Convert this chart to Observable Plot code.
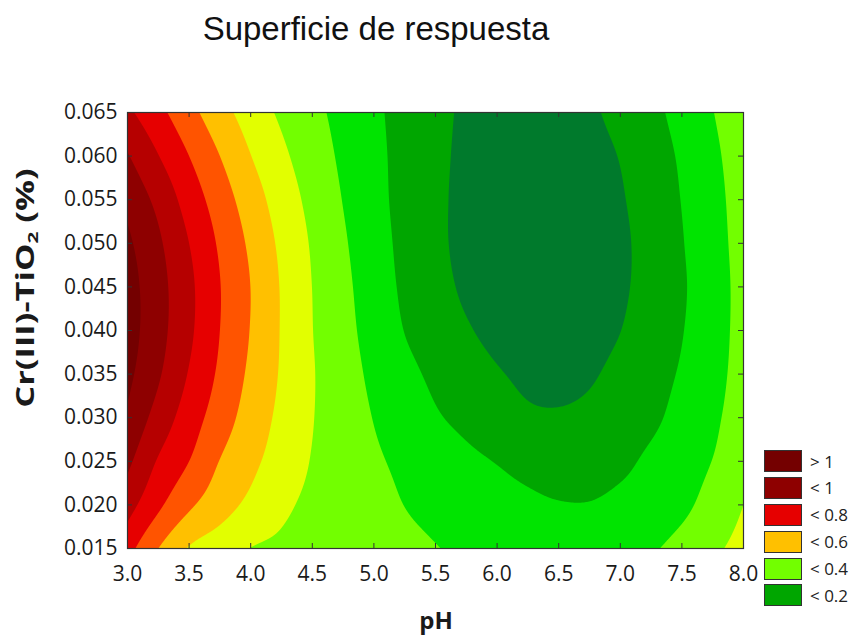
<!DOCTYPE html>
<html>
<head>
<meta charset="utf-8">
<script src="https://cdn.jsdelivr.net/npm/d3@7"></script>
<script src="https://cdn.jsdelivr.net/npm/@observablehq/plot@0.6"></script>
<style>
  body { margin: 0; background: #fff; }
  #chart { position: relative; width: 858px; height: 635px; font-family: "Open Sans", sans-serif; color: #1a1a1a; }
  #chart svg { position: absolute; left: 0; top: 0; }
  #title { position: absolute; left: 0; width: 752px; top: 12px; text-align: center;
           font-family: "Liberation Sans", Arial, sans-serif; font-size: 33px; line-height: 33px; color: #111; }
  #ylab { position: absolute; left: 28px; top: 288px; transform: translate(-50%, -50%) rotate(-90deg) scaleX(1.38);
          white-space: nowrap; font-weight: 700; font-size: 25px; line-height: 25px; }
  #ylab sub { font-size: 15px; vertical-align: -4px; }
  #xlab { position: absolute; left: 436px; top: 603px; transform: translateX(-50%); font-weight: 700; font-size: 24px; }
  #legend { position: absolute; left: 764px; top: 450px; }
  .item { display: flex; align-items: center; height: 22px; margin-bottom: 4.9px; }
  .swatch { width: 36px; height: 20px; border: 1px solid #333; }
  .item span { margin-left: 8px; font-size: 17px; color: #222; }
</style>
</head>
<body>
<div id="chart">
  <div id="title">Superficie de respuesta</div>
  <div id="ylab">Cr(III)-TiO<sub>2</sub> (%)</div>
  <div id="xlab">pH</div>
  <div id="legend"></div>
</div>
<script>
// Grid of the fitted response: one row per Cr(III)-TiO2 level, one value per pH.
const pH = [3.0, 3.25, 3.5, 3.75, 4.0, 4.25, 4.5, 4.75, 5.0, 5.25, 5.5, 5.75, 6.0, 6.25, 6.5, 6.75, 7.0, 7.25, 7.5, 7.75, 8.0];
const cr = [0.015, 0.020, 0.025, 0.030, 0.035, 0.040, 0.045, 0.050, 0.055, 0.060, 0.065];

const r015 = [0.735, 0.600, 0.492, 0.445, 0.398, 0.383, 0.367, 0.351, 0.335, 0.319, 0.303, 0.285, 0.270, 0.260, 0.255, 0.258, 0.268, 0.290, 0.331, 0.382, 0.430];
const r020 = [0.839, 0.719, 0.617, 0.542, 0.477, 0.419, 0.381, 0.354, 0.326, 0.299, 0.279, 0.258, 0.234, 0.218, 0.205, 0.204, 0.222, 0.243, 0.280, 0.335, 0.400];
const r025 = [0.922, 0.791, 0.700, 0.597, 0.524, 0.456, 0.395, 0.354, 0.313, 0.282, 0.254, 0.222, 0.196, 0.172, 0.156, 0.158, 0.180, 0.218, 0.260, 0.302, 0.365];
const r030 = [0.984, 0.861, 0.751, 0.650, 0.557, 0.477, 0.404, 0.349, 0.297, 0.253, 0.210, 0.175, 0.138, 0.113, 0.108, 0.118, 0.142, 0.181, 0.231, 0.283, 0.345];
const r035 = [1.024, 0.912, 0.793, 0.683, 0.581, 0.490, 0.407, 0.341, 0.280, 0.226, 0.181, 0.142, 0.107, 0.086, 0.082, 0.092, 0.122, 0.164, 0.210, 0.269, 0.335];
const r040 = [1.043, 0.935, 0.819, 0.700, 0.596, 0.494, 0.402, 0.331, 0.263, 0.198, 0.154, 0.109, 0.077, 0.062, 0.061, 0.073, 0.099, 0.146, 0.196, 0.262, 0.330];
const r045 = [1.041, 0.936, 0.822, 0.703, 0.599, 0.493, 0.399, 0.324, 0.250, 0.184, 0.133, 0.085, 0.058, 0.044, 0.044, 0.058, 0.087, 0.133, 0.189, 0.259, 0.330];
const r050 = [1.018, 0.916, 0.800, 0.686, 0.582, 0.480, 0.390, 0.312, 0.240, 0.176, 0.122, 0.074, 0.046, 0.034, 0.036, 0.053, 0.084, 0.134, 0.195, 0.264, 0.335];
const r055 = [0.973, 0.873, 0.757, 0.651, 0.549, 0.454, 0.372, 0.297, 0.230, 0.171, 0.120, 0.076, 0.051, 0.040, 0.043, 0.061, 0.092, 0.144, 0.203, 0.268, 0.345];
const r060 = [0.907, 0.803, 0.700, 0.600, 0.502, 0.420, 0.349, 0.283, 0.224, 0.171, 0.122, 0.081, 0.058, 0.049, 0.053, 0.072, 0.104, 0.157, 0.213, 0.279, 0.355];
const r065 = [0.820, 0.728, 0.632, 0.538, 0.455, 0.384, 0.326, 0.270, 0.217, 0.169, 0.124, 0.087, 0.067, 0.060, 0.067, 0.087, 0.127, 0.175, 0.232, 0.297, 0.370];
const rows = [r015, r020, r025, r030, r035, r040, r045, r050, r055, r060, r065];

// Contour levels and the colour of each band (below 0.1 up to above 1).
const levels = [0.1, 0.2, 0.3, 0.4, 0.5, 0.6, 0.7, 0.8, 0.9, 1.0];
const bandColors = ["#007a2c", "#00a600", "#00e400", "#72ff00", "#e2ff00", "#ffc000", "#ff5400", "#e60000", "#b60000", "#8e0000", "#740000"];

// Legend entries and a value inside each listed band.
const legendLabels = ["> 1", "< 1", "< 0.8", "< 0.6", "< 0.4", "< 0.2"];
const legendValues = [1.05, 0.95, 0.75, 0.55, 0.35, 0.15];

const xTicks = [3.0, 3.5, 4.0, 4.5, 5.0, 5.5, 6.0, 6.5, 7.0, 7.5, 8.0];
const yTicks = [0.015, 0.020, 0.025, 0.030, 0.035, 0.040, 0.045, 0.050, 0.055, 0.060, 0.065];

const points = rows.flatMap((row, j) => row.map((z, i) => ({pH: pH[i], cr: cr[j], z})));

// Smooth (Catmull-Rom bicubic) raster interpolation over the regular pH × Cr grid,
// used by the contour mark in place of the default triangulation.
function bicubicGrid(index, width, height, X, Y, V) {
  const nx = pH.length, ny = cr.length;
  const at = (i, j) => index[j * nx + i];
  const x0 = X[at(0, 0)], dx = (X[at(nx - 1, 0)] - x0) / (nx - 1);
  const y0 = Y[at(0, 0)], dy = (Y[at(0, ny - 1)] - y0) / (ny - 1);
  const g = (i, j) => {
    if (i < 0) return 2 * g(0, j) - g(1, j);
    if (i > nx - 1) return 2 * g(nx - 1, j) - g(nx - 2, j);
    if (j < 0) return 2 * g(i, 0) - g(i, 1);
    if (j > ny - 1) return 2 * g(i, ny - 1) - g(i, ny - 2);
    return V[at(i, j)];
  };
  const cubic = (p0, p1, p2, p3, t) =>
    0.5 * (2 * p1 + (p2 - p0) * t + (2 * p0 - 5 * p1 + 4 * p2 - p3) * t * t + (3 * p1 - p0 - 3 * p2 + p3) * t * t * t);
  const W = new Float64Array(width * height);
  for (let py = 0; py < height; ++py) {
    const v = (py + 0.5 - y0) / dy;
    const j = Math.max(0, Math.min(ny - 2, Math.floor(v))), s = v - j;
    for (let px = 0; px < width; ++px) {
      const u = (px + 0.5 - x0) / dx;
      const i = Math.max(0, Math.min(nx - 2, Math.floor(u))), t = u - i;
      const c = [];
      for (let k = -1; k <= 2; ++k) c.push(cubic(g(i - 1, j + k), g(i, j + k), g(i + 1, j + k), g(i + 2, j + k), t));
      W[py * width + px] = cubic(c[0], c[1], c[2], c[3], s);
    }
  }
  return W;
}

const W = 858, H = 635, mt = 112, mb = 87, ml = 127, mr = 115;
const innerW = W - ml - mr, innerH = H - mt - mb;
const axisColor = "#333";

const plot = Plot.plot({
  width: W, height: H,
  marginTop: mt, marginBottom: mb, marginLeft: ml, marginRight: mr,
  x: {domain: [3, 8]},
  y: {domain: [0.015, 0.065]},
  color: {type: "threshold", domain: levels, range: bandColors},
  style: {fontFamily: "'Open Sans', sans-serif", fontSize: "21px", color: "#1a1a1a", background: "transparent"},
  marks: [
    Plot.frame({fill: bandColors[0]}),
    Plot.contour(points, {
      x: "pH", y: "cr", fill: "z",
      thresholds: levels,
      interpolate: bicubicGrid,
      pixelSize: 1,
      stroke: "none"
    }),
    Plot.frame({stroke: axisColor, strokeWidth: 1.2}),
    // inward tick marks on all four sides
    Plot.tickX(xTicks, {x: d => d, stroke: axisColor, insetTop: innerH - 5}),
    Plot.tickX(xTicks, {x: d => d, stroke: axisColor, insetBottom: innerH - 5}),
    Plot.tickY(yTicks, {y: d => d, stroke: axisColor, insetRight: innerW - 5}),
    Plot.tickY(yTicks, {y: d => d, stroke: axisColor, insetLeft: innerW - 5}),
    Plot.axisX(xTicks, {tickSize: 0, tickPadding: 18, tickFormat: d3.format(".1f"), label: null}),
    Plot.axisY(yTicks, {tickSize: 0, tickPadding: 10, tickFormat: d3.format(".3f"), label: null})
  ]
});

document.getElementById("chart").prepend(plot);

// Legend swatches take their colours from the plot's own colour scale.
const color = plot.scale("color");
const scale = d3.scaleThreshold(color.domain, color.range);
const legend = d3.select("#legend");
legendLabels.forEach((label, i) => {
  const item = legend.append("div").attr("class", "item");
  item.append("div").attr("class", "swatch").style("background", scale(legendValues[i]));
  item.append("span").text(label);
});
</script>
</body>
</html>
